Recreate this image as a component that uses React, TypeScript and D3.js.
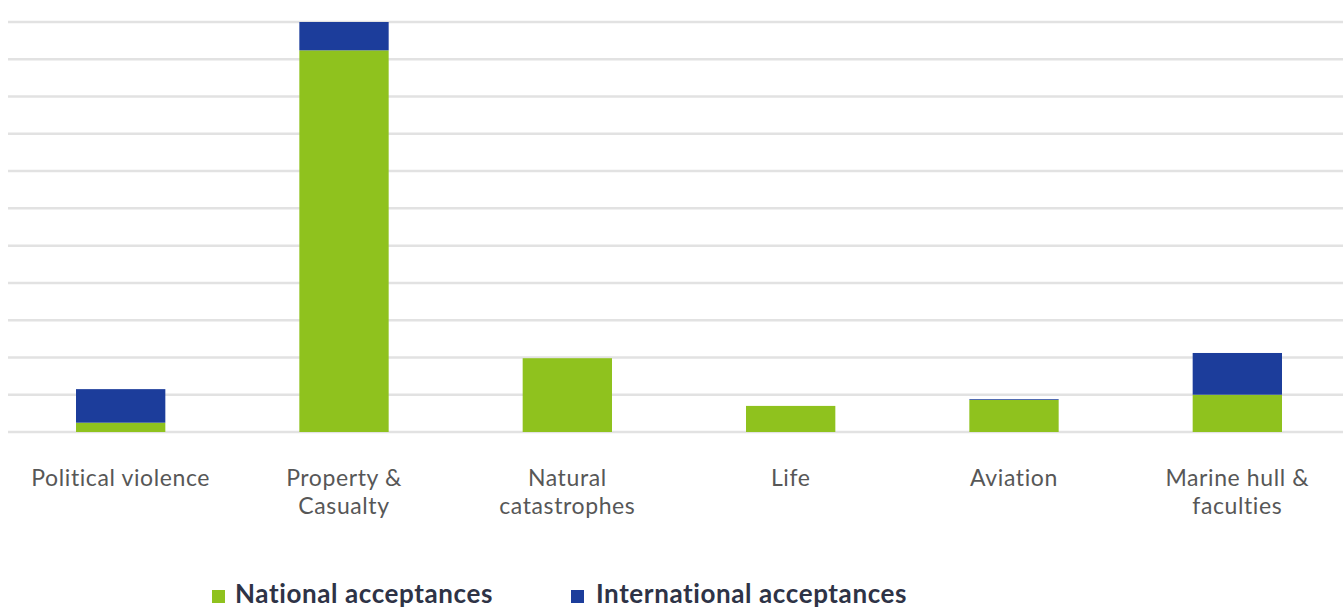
import React from "react";
import * as d3 from "d3";

const categories: string[][] = [
  ["Political violence"],
  ["Property &", "Casualty"],
  ["Natural", "catastrophes"],
  ["Life"],
  ["Aviation"],
  ["Marine hull &", "faculties"],
];
const national: number[] = [0.25, 10.24, 1.98, 0.7, 0.86, 1.0];
const international: number[] = [0.9, 0.76, 0, 0, 0.02, 1.12];
const gridTicks: number[] = [0, 1, 2, 3, 4, 5, 6, 7, 8, 9, 10, 11];
const seriesNames: string[] = ["National acceptances", "International acceptances"];

const W = 1343;
const H = 610;
const GREEN = "#8fc21e";
const BLUE = "#1c3d9b";

export default function App() {
  const x = d3
    .scaleBand<number>()
    .domain(categories.map((_, i) => i))
    .range([9, 1349])
    .paddingInner(0.6)
    .paddingOuter(0.3);
  const y = d3.scaleLinear().domain([0, 11]).range([432, 22]);

  const rows = categories.map((_, i) => ({ i, national: national[i], international: international[i] }));
  const stack = d3.stack<any>().keys(["national", "international"])(rows);
  const colors = [GREEN, BLUE];

  return (
    <svg
      width={W}
      height={H}
      style={{ position: "absolute", left: 0, top: 0, background: "#fff" }}
      fontFamily="Lato, 'Open Sans', sans-serif"
    >
      <g>
        {gridTicks.map((t) => (
          <line key={t} x1={8} x2={W} y1={y(t)} y2={y(t)} stroke="#e2e2e2" strokeWidth={2.5} />
        ))}
      </g>
      <g>
        {stack.map((s, si) =>
          s.map((d, i) =>
            d[1] - d[0] > 0 ? (
              <rect
                key={`${si}-${i}`}
                x={x(i)}
                width={x.bandwidth()}
                y={y(d[1])}
                height={y(d[0]) - y(d[1])}
                fill={colors[si]}
              />
            ) : null
          )
        )}
      </g>
      <g>
        {categories.map((lines, i) => (
          <text
            key={i}
            x={(x(i) as number) + x.bandwidth() / 2}
            y={486}
            textAnchor="middle"
            fontSize={23}
            letterSpacing={0.6}
            fill="#575757"
          >
            {lines.map((l, li) => (
              <tspan key={li} x={(x(i) as number) + x.bandwidth() / 2} dy={li === 0 ? 0 : 28}>
                {l}
              </tspan>
            ))}
          </text>
        ))}
      </g>
      <g>
        {[
          { sx: 212, tx: 235 },
          { sx: 571, tx: 596 },
        ].map((p, i) => (
          <g key={i}>
            <rect x={p.sx} y={590} width={13} height={13} fill={colors[i]} />
            <text x={p.tx} y={603} fontSize={26} fontWeight="bold" letterSpacing={0.6} fill="#2e3346">
              {seriesNames[i]}
            </text>
          </g>
        ))}
      </g>
    </svg>
  );
}
